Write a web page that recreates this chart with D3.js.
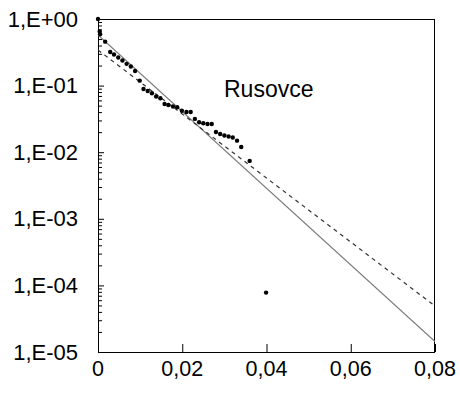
<!DOCTYPE html>
<html>
<head>
<meta charset="utf-8">
<script src="https://cdn.jsdelivr.net/npm/d3@7"></script>
<style>
  html, body { margin: 0; padding: 0; background: #fff; }
  svg { display: block; }
  text { font-family: "Liberation Sans", Arial, sans-serif; fill: #000; }
</style>
</head>
<body>
<svg id="chart" width="460" height="393"></svg>
<script>
// ---- data ----
const pointX = [0, 0.0004, 0.0005, 0.0017, 0.0029, 0.0038, 0.0048, 0.0058, 0.0068, 0.0078,
  0.0088, 0.0099, 0.0108, 0.0118, 0.0128, 0.0138, 0.0148, 0.0158, 0.0167, 0.0178,
  0.0188, 0.0199, 0.0210, 0.0220, 0.0230, 0.0240, 0.0250, 0.0260, 0.0270, 0.0280,
  0.0290, 0.0300, 0.0310, 0.0320, 0.0330, 0.0340, 0.0360, 0.0399];
const pointY = [1.0, 0.65, 0.59, 0.457, 0.32, 0.293, 0.264, 0.238, 0.212, 0.194,
  0.166, 0.1186, 0.089, 0.083, 0.0766, 0.0686, 0.0645, 0.053, 0.0511, 0.0485,
  0.0472, 0.042, 0.0402, 0.0402, 0.0316, 0.0281, 0.0272, 0.0265, 0.0265, 0.0201,
  0.0188, 0.0178, 0.0172, 0.0166, 0.0149, 0.012, 0.0074, 0.000078];
const solidFitX = [0, 0.08];
const solidFitY = [0.575, 1.44e-5];
const dashedFitX = [0, 0.08];
const dashedFitY = [0.342, 4.9e-5];
const xTicks = [0, 0.02, 0.04, 0.06, 0.08];
const xTickLabels = ["0", "0,02", "0,04", "0,06", "0,08"];
const yTicks = [1, 1e-1, 1e-2, 1e-3, 1e-4, 1e-5];
const yTickLabels = ["1,E+00", "1,E-01", "1,E-02", "1,E-03", "1,E-04", "1,E-05"];
const seriesLabel = "Rusovce";

// ---- layout ----
const L = 98, R = 435, T = 19, B = 352;
const svg = d3.select("#chart");
const x = d3.scaleLinear().domain([0, 0.08]).range([L, R]);
const y = d3.scaleLog().domain([1e-5, 1]).range([B, T]);

// minor ticks on y (log)
const minor = [];
for (let e = -5; e < 0; e++) for (let k = 2; k <= 9; k++) minor.push(k * Math.pow(10, e));

const g = svg.append("g");

// y axis (ticks inward)
const yAxis = d3.axisLeft(y).tickValues(yTicks).tickSize(-6).tickFormat("");
g.append("g").attr("transform", `translate(${L},0)`).call(yAxis)
  .call(s => s.select(".domain").remove());
const yMinor = d3.axisLeft(y).tickValues(minor).tickSize(-4).tickFormat("");
g.append("g").attr("transform", `translate(${L},0)`).call(yMinor)
  .call(s => s.select(".domain").remove());

// x axis (ticks inward)
const xAxis = d3.axisBottom(x).tickValues(xTicks).tickSize(-8).tickFormat("");
g.append("g").attr("transform", `translate(0,${B})`).call(xAxis)
  .call(s => s.select(".domain").remove());

g.selectAll(".tick line").attr("stroke", "#000").attr("stroke-width", 1);

// frame
svg.append("rect").attr("x", L + 0.5).attr("y", T + 0.5)
  .attr("width", R - L - 1).attr("height", B - T)
  .attr("fill", "none").attr("stroke", "#000").attr("stroke-width", 1);

// tick labels
svg.selectAll(".ylab").data(yTicks).enter().append("text")
  .attr("x", 78).attr("y", d => y(d) + 7.5)
  .attr("text-anchor", "end").attr("font-size", 22)
  .text((d, i) => yTickLabels[i]);
svg.selectAll(".xlab").data(xTicks).enter().append("text")
  .attr("x", d => x(d)).attr("y", 376)
  .attr("text-anchor", "middle").attr("font-size", 21.5)
  .text((d, i) => xTickLabels[i]);

// clip
svg.append("clipPath").attr("id", "clip").append("rect")
  .attr("x", L).attr("y", T).attr("width", R - L).attr("height", B - T);

const line = d3.line().x(d => x(d[0])).y(d => y(d[1]));
svg.append("path").attr("clip-path", "url(#clip)")
  .attr("d", line(solidFitX.map((v, i) => [v, solidFitY[i]])))
  .attr("fill", "none").attr("stroke", "#7a7a7a").attr("stroke-width", 1.2);
svg.append("path").attr("clip-path", "url(#clip)")
  .attr("d", line(dashedFitX.map((v, i) => [v, dashedFitY[i]])))
  .attr("fill", "none").attr("stroke", "#333").attr("stroke-width", 1.2)
  .attr("stroke-dasharray", "4,4");

// points
svg.selectAll(".pt").data(pointX.map((v, i) => [v, pointY[i]])).enter().append("circle")
  .attr("cx", d => x(d[0])).attr("cy", d => y(d[1])).attr("r", 2.2).attr("fill", "#000");

// label
svg.append("text").attr("x", 224).attr("y", 97).attr("font-size", 23).text(seriesLabel);
</script>
</body>
</html>
